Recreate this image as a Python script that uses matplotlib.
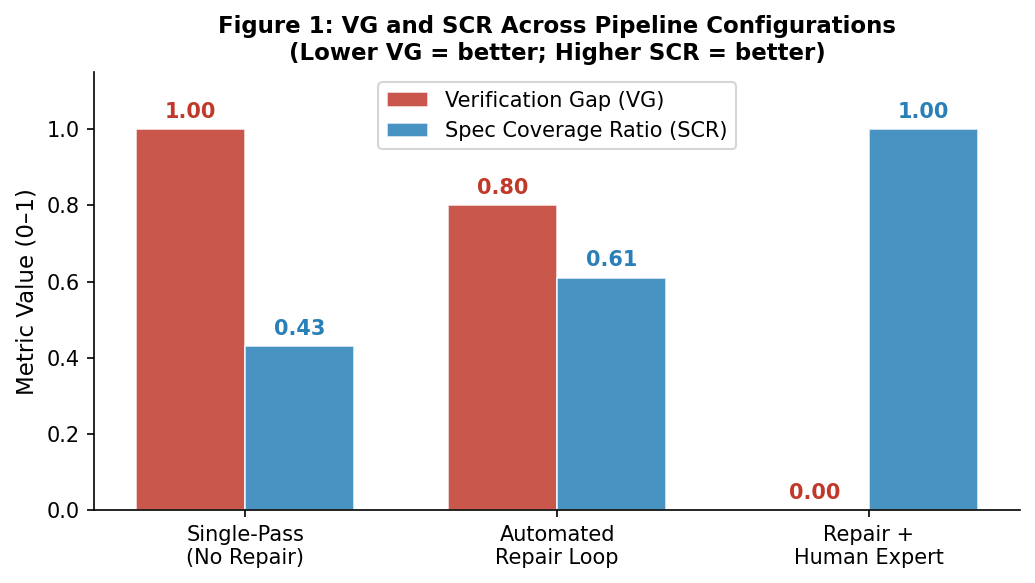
import numpy as np
import matplotlib
matplotlib.use('Agg')
import matplotlib.pyplot as plt

# Data
configs = ['Single-Pass\n(No Repair)', 'Automated\nRepair Loop', 'Repair +\nHuman Expert']
vg = [1.00, 0.80, 0.00]
scr = [0.43, 0.61, 1.00]

red = '#c0392b'
blue = '#2980b9'

fig, ax = plt.subplots(figsize=(6.9, 3.887), dpi=150)
x = np.arange(len(configs))
w = 0.35

b1 = ax.bar(x - w / 2, vg, w, color=red, alpha=0.85, edgecolor='white', linewidth=0.8,
            label='Verification Gap (VG)')
b2 = ax.bar(x + w / 2, scr, w, color=blue, alpha=0.85, edgecolor='white', linewidth=0.8,
            label='Spec Coverage Ratio (SCR)')

# value labels
for bars, col in [(b1, red), (b2, blue)]:
    for b in bars:
        h = b.get_height()
        ax.text(b.get_x() + b.get_width() / 2, h + 0.02, f'{h:.2f}', ha='center', va='bottom',
                fontsize=10, fontweight='bold', color=col)

ax.set_xticks(x)
ax.set_xticklabels(configs, fontsize=10)
ax.set_ylabel('Metric Value (0–1)', fontsize=11)
ax.set_ylim(0, 1.15)
ax.set_title('Figure 1: VG and SCR Across Pipeline Configurations\n(Lower VG = better; Higher SCR = better)',
             fontsize=11, fontweight='bold')
ax.legend(loc='upper center', fontsize=10)
ax.spines['top'].set_visible(False)
ax.spines['right'].set_visible(False)

fig.subplots_adjust(left=0.091, right=0.9855, bottom=0.125, top=0.8765)
plt.savefig('out.png', dpi=150)
